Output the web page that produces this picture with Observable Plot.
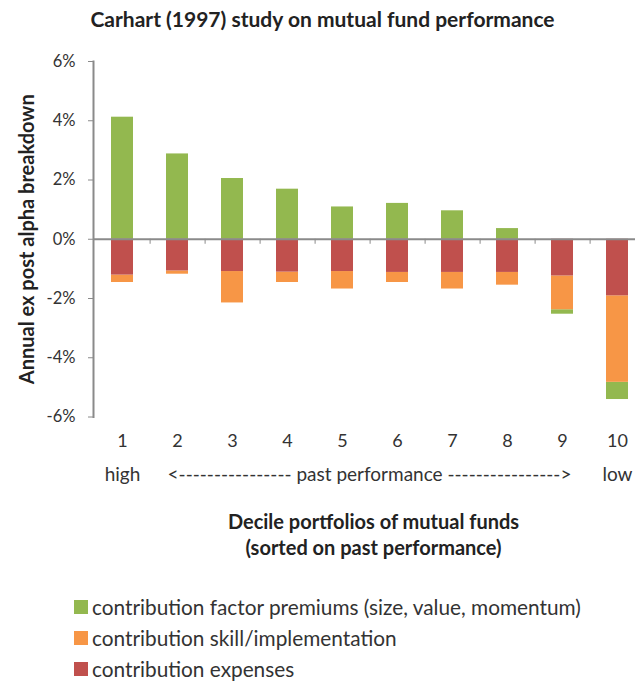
<!DOCTYPE html>
<html><head><meta charset="utf-8">
<script src="https://cdn.jsdelivr.net/npm/d3@7"></script>
<script src="https://cdn.jsdelivr.net/npm/@observablehq/plot@0.6"></script>
<style>
body{margin:0;background:#fff;font-family:Lato,sans-serif;color:#222;width:635px;height:689px;overflow:hidden}
#title{height:40px;line-height:37px;text-align:center;font-weight:bold;font-size:21px;padding-left:10px}
#chart svg{display:block}
#legend{padding-top:11px;padding-left:74px;font-size:20.8px;color:#333}
.row{height:31px;display:flex;align-items:center}
.sw{width:14px;height:14px;margin-right:4px;flex:none}
</style></head><body>
<div id="title"></div><div id="chart"></div><div id="legend"></div>
<script>
const titleText = "Carhart (1997) study on mutual fund performance";
const yLabel = "Annual ex post alpha breakdown";
const xTitle1 = "Decile portfolios of mutual funds";
const xTitle2 = "(sorted on past performance)";
const deciles = ["1","2","3","4","5","6","7","8","9","10"];
const rankLow = ["high","low"];
const rankMid = "<---------------- past performance ---------------->";
const yTicks = [-6,-4,-2,0,2,4,6];
const factor   = [4.12, 2.88, 2.05, 1.69, 1.09, 1.21, 0.96, 0.36, -0.15, -0.58];
const skill    = [-0.25, -0.11, -1.06, -0.35, -0.59, -0.34, -0.56, -0.43, -1.14, -2.92];
const expenses = [-1.21, -1.07, -1.09, -1.11, -1.09, -1.12, -1.12, -1.12, -1.24, -1.91];
const seriesKeys = ["factor","skill","expenses"];
const seriesNames = ["contribution factor premiums (size, value, momentum)","contribution skill/implementation","contribution expenses"];
const seriesColors = ["#93b84f","#f79646","#c0504d"];

document.getElementById("title").textContent = titleText;

const values = {factor, skill, expenses};
const rows = [];
for (const k of seriesKeys) deciles.forEach((d,i) => rows.push({decile:d, series:k, value:values[k][i]}));

const chart = Plot.plot({
  width: 635, height: 540,
  marginTop: 21, marginBottom: 163.5, marginLeft: 93, marginRight: -10,
  style: {fontFamily: "Lato, sans-serif", fontSize: "16px", color: "#222", background: "white"},
  x: {domain: deciles, paddingInner: 0.6, paddingOuter: 0.3},
  y: {domain: [-6, 6]},
  color: {domain: seriesKeys, range: seriesColors},
  marks: [
    Plot.barY(rows, Plot.stackY({order: ["expenses","skill","factor"]}, {x: "decile", y: "value", z: "series", fill: "series"})),
    Plot.ruleY([0], {stroke: "#8a8a8a", strokeWidth: 2}),
    Plot.ruleX(deciles, {x: d => d, y1: 0, y2: 0, insetBottom: -5, dx: 27.6, stroke: "#8a8a8a", strokeWidth: 1}),
    Plot.frame({anchor: "left", stroke: "#8a8a8a", strokeWidth: 2}),
    Plot.axisY({ticks: yTicks, tickFormat: d => d + "%", tickSize: 5, tickPadding: 13, stroke: "#8a8a8a", label: null, fontSize: 16.5, fill: "#333"}),
    Plot.axisX({tickSize: 0, tickPadding: 17, label: null, fontSize: 18, fill: "#333"}),
    Plot.text([yLabel], {frameAnchor: "left", textAnchor: "middle", dx: -66, rotate: -90, fontWeight: "bold", fontSize: 20, fill: "#222"}),
    Plot.text(rankLow, {x: (d,i) => deciles[i === 0 ? 0 : deciles.length - 1], frameAnchor: "bottom", dy: 64, fontSize: 19, fill: "#333"}),
    Plot.text([rankMid], {frameAnchor: "bottom", dy: 64, fontSize: 19, fill: "#333"}),
    Plot.text([xTitle1], {frameAnchor: "bottom", dx: 4, dy: 111.5, fontSize: 20, fontWeight: "bold", fill: "#222"}),
    Plot.text([xTitle2], {frameAnchor: "bottom", dx: 4, dy: 137.5, fontSize: 20, fontWeight: "bold", fill: "#222"})
  ]
});
document.getElementById("chart").appendChild(chart);

const legend = document.getElementById("legend");
seriesKeys.forEach((k,i) => {
  const r = document.createElement("div"); r.className = "row";
  const s = document.createElement("span"); s.className = "sw"; s.style.background = seriesColors[i];
  const t = document.createElement("span"); t.textContent = seriesNames[i];
  r.appendChild(s); r.appendChild(t); legend.appendChild(r);
});
</script>
</body></html>
